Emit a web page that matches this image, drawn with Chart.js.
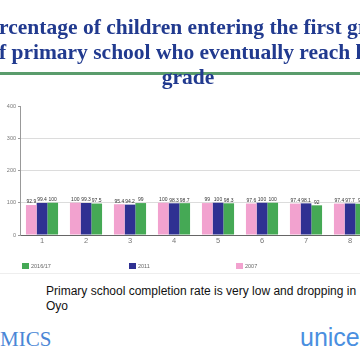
<!DOCTYPE html>
<html>
<head>
<meta charset="utf-8">
<script src="https://cdn.jsdelivr.net/npm/chart.js@4.4.1/dist/chart.umd.min.js"></script>
<style>
  html, body { margin:0; padding:0; width:360px; height:360px; overflow:hidden; background:#fff; position:relative; }
  #wrap { position:absolute; left:0; top:0; width:380px; height:276px; z-index:1; }
  .title { position:absolute; left:-112px; width:600px; top:15px; text-align:center; white-space:nowrap;
           font-family:"Liberation Serif", "Times New Roman", serif; font-weight:bold; font-size:21.5px; line-height:25px; color:#213a8f; z-index:2; }
  .deco-line { position:absolute; left:0; width:360px; top:72px; height:3px; background:#5a9c6c; z-index:0; }
  .thin-line { position:absolute; left:0; width:360px; top:273px; height:1px; background:#eee; }
  .note { position:absolute; left:46px; top:284px; font-family:"Liberation Sans", Arial, sans-serif; font-size:12px; line-height:15px; color:#111; white-space:nowrap; }
  .mics { position:absolute; left:0; top:327px; font-family:"Liberation Serif", "Times New Roman", serif; font-size:21px; line-height:24px; color:#4a86d6; }
  .unicef { position:absolute; left:300px; top:323px; font-family:"Liberation Sans", Arial, sans-serif; font-size:25px; line-height:28px; color:#4a8fe0; white-space:nowrap; }
</style>
</head>
<body>
<div class="deco-line"></div>
<div class="title" id="title"></div>
<div id="wrap"><canvas id="c"></canvas></div>
<div class="thin-line"></div>
<div class="note">Primary school completion rate is very low and dropping in<br>Oyo</div>
<div class="mics">MICS</div>
<div class="unicef">unicef</div>
<script>
const titleLines = ["Percentage of children entering the first grade", "of primary school who eventually reach last", "grade"];
const categories = ["1", "2", "3", "4", "5", "6", "7", "8"];
const seriesLabels = ["2007", "2011", "2016/17"];
const values2007 = [92.9, 100, 95.4, 100, 99, 97.6, 97.4, 97.4];
const values2011 = [99.4, 99.3, 94.2, 98.3, 100, 100, 98.1, 97.7];
const values2016 = [100, 97.5, 99, 98.7, 98.3, 100, 92, 97];
const yTicks = [0, 100, 200, 300, 400];
const colors = ["#f2a2cf", "#2f3192", "#45a955"];

document.getElementById('title').innerHTML = titleLines.join('<br>');

const valueLabels = {
  id: 'valueLabels',
  afterDatasetsDraw(chart) {
    const ctx = chart.ctx;
    ctx.save();
    ctx.font = '5px "Liberation Sans", Arial, sans-serif';
    ctx.fillStyle = '#333';
    ctx.textAlign = 'center';
    ctx.textBaseline = 'bottom';
    chart.data.datasets.forEach((ds, i) => {
      const meta = chart.getDatasetMeta(i);
      meta.data.forEach((bar, j) => {
        ctx.fillText(String(ds.data[j]), bar.x, bar.y - 0.5);
      });
    });
    ctx.restore();
  }
};

const customLegend = {
  id: 'customLegend',
  afterDraw(chart) {
    const ctx = chart.ctx;
    const area = chart.chartArea;
    const order = [2, 1, 0];
    ctx.save();
    ctx.font = '5.5px "Liberation Sans", Arial, sans-serif';
    ctx.textBaseline = 'middle';
    ctx.textAlign = 'left';
    order.forEach((dsIndex, k) => {
      const ds = chart.data.datasets[dsIndex];
      const x = area.left + 2 + k * 107;
      const y = area.bottom + 31;
      ctx.fillStyle = ds.backgroundColor;
      ctx.fillRect(x, y - 3, 7, 6);
      ctx.fillStyle = '#666';
      ctx.fillText(ds.label, x + 9, y);
    });
    ctx.restore();
  }
};

new Chart(document.getElementById('c'), {
  type: 'bar',
  data: {
    labels: categories,
    datasets: [
      { label: seriesLabels[0], data: values2007, backgroundColor: colors[0] },
      { label: seriesLabels[1], data: values2011, backgroundColor: colors[1] },
      { label: seriesLabels[2], data: values2016, backgroundColor: colors[2] }
    ]
  },
  options: {
    responsive: true,
    maintainAspectRatio: false,
    animation: false,
    layout: { padding: { left: 0, right: 8, top: 106, bottom: 30 } },
    datasets: { bar: { categoryPercentage: 0.73, barPercentage: 1.0 } },
    plugins: {
      legend: { display: false },
      tooltip: { enabled: false },
      title: { display: false }
    },
    scales: {
      x: {
        offset: true,
        grid: { display: true, drawOnChartArea: false, drawTicks: false, color: '#999' },
        border: { color: '#666', width: 1 },
        ticks: { color: '#777', font: { size: 7.5, family: '"Liberation Sans", Arial, sans-serif' }, padding: 1 }
      },
      y: {
        min: 0, max: 400,
        afterBuildTicks(scale) { scale.ticks = yTicks.map(v => ({ value: v })); },
        afterFit(scale) { scale.width = 20; },
        grid: {
          color: (c) => (c.tick && c.tick.value === 400) ? 'rgba(0,0,0,0)' : '#dcdcdc',
          tickColor: '#999', tickLength: 2
        },
        border: { color: '#999', width: 1 },
        ticks: { color: '#777', font: { size: 5.5, family: '"Liberation Sans", Arial, sans-serif' }, padding: 2 }
      }
    }
  },
  plugins: [valueLabels, customLegend]
});
</script>
</body>
</html>
